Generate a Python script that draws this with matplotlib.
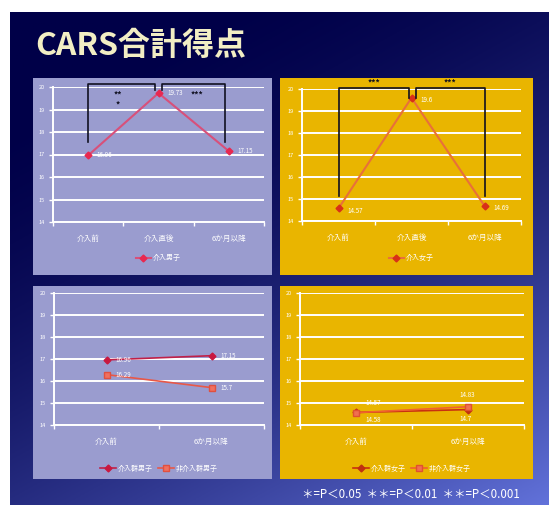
import numpy as np
import matplotlib.pyplot as plt
from matplotlib.patches import Rectangle

plt.rcParams['font.family'] = ['Noto Sans CJK JP', 'DejaVu Sans']

# данные
cats3 = ['介入前', '介入直後', '6か月以降']
cats2 = ['介入前', '6か月以降']
boys3 = [16.96, 19.73, 17.15]
girls3 = [14.57, 19.6, 14.69]
boys_int = [16.96, 17.15]
boys_non = [16.29, 15.7]
girls_int = [14.57, 14.7]
girls_non = [14.56, 14.83]
boys3_lbl = ['16.96', '19.73', '17.15']
girls3_lbl = ['14.57', '19.6', '14.69']
boys_int_lbl = ['16.96', '17.15']
boys_non_lbl = ['16.29', '15.7']
girls_int_lbl = ['14.57', '14.7']
girls_non_lbl = ['14.58', '14.83']
yticks = [14, 15, 16, 17, 18, 19, 20]

W, H = 549, 505
fig = plt.figure(figsize=(W / 100, H / 100), dpi=100)
fig.patch.set_facecolor('white')


def fr(x0, y0, x1, y1):
    # пиксели -> доли фигуры
    return [x0 / W, 1 - y1 / H, (x1 - x0) / W, (y1 - y0) / H]


# фон слайда с градиентом
bg = fig.add_axes(fr(10, 12, 549, 505))
bg.axis('off')
ny, nx = 200, 220
xx, yy = np.meshgrid(np.linspace(0, 1, nx), np.linspace(0, 1, ny))
t = np.clip((0.6 * xx + 1.0 * yy - 0.2) / 1.4, 0, 1) ** 1.7
navy = np.array([0x00, 0x00, 0x48]) / 255
blue = np.array([0x62, 0x72, 0xda]) / 255
img = navy + (blue - navy) * t[..., None]
bg.imshow(img, aspect='auto', extent=[0, 1, 0, 1], origin='upper')
bg.set_xlim(0, 1)
bg.set_ylim(0, 1)

fig.text(35 / W, 1 - 46 / H, 'CARS合計得点', color='#f2eec4', fontsize=23,
         va='center', ha='left', fontweight='bold')

lav = '#9a9ccf'
gold = '#e9b500'
panels = [(33, 78, 272, 275, lav), (280, 78, 533, 275, gold),
          (33, 286, 272, 479, lav), (280, 286, 533, 479, gold)]
for x0, y0, x1, y1, c in panels:
    fig.patches.append(Rectangle((x0 / W, 1 - y1 / H), (x1 - x0) / W, (y1 - y0) / H,
                                 transform=fig.transFigure, facecolor=c, edgecolor='none', zorder=1))


def setup(ax, cats):
    n = len(cats)
    ax.set_facecolor('none')
    ax.set_xlim(-0.5, n - 0.5)
    ax.set_ylim(14, 20)
    ax.set_yticks(yticks)
    ax.set_yticklabels([str(v) for v in yticks], fontsize=4, color='white')
    ax.set_xticks(range(n))
    ax.set_xticklabels(cats, fontsize=5.5, color='white')
    ax.set_xticks(np.arange(-0.5, n, 1.0), minor=True)
    ax.tick_params(axis='x', which='major', length=0, pad=9)
    ax.tick_params(axis='x', which='minor', length=3, color='white', width=1)
    ax.tick_params(axis='y', length=3, color='white', width=1, pad=3)
    ax.grid(axis='y', color='white', linewidth=1.4)
    ax.set_axisbelow(True)
    for s in ['top', 'right']:
        ax.spines[s].set_visible(False)
    for s in ['left', 'bottom']:
        ax.spines[s].set_color('white')
        ax.spines[s].set_linewidth(1.4)


def labels(ax, xs, ys, texts, dy=0.0, dx=0.12):
    for x, y, s in zip(xs, ys, texts):
        ax.text(x + dx, y + dy, s, fontsize=4.5, color='white', va='center', ha='left')


def bracket(ax, x0, x1, y_low0, y_low1, top, color='#101020'):
    ax.plot([x0, x0, x1, x1], [y_low0, top, top, y_low1], color=color,
            linewidth=1.2, clip_on=False, zorder=4)


# Панель 1: мальчики
ax1 = fig.add_axes(fr(53, 87, 264, 222), zorder=3)
setup(ax1, cats3)
ax1.plot(range(3), boys3, color='#d8507a', linewidth=1.5, marker='D', markersize=3.5,
         markerfacecolor='#e82850', markeredgecolor='#e82850', label='介入男子', zorder=3)
labels(ax1, range(3), boys3, boys3_lbl)
bracket(ax1, 0, 0.95, 17.55, 19.85, 20.12)
bracket(ax1, 1.05, 1.95, 19.85, 17.55, 20.12)
ax1.text(0.42, 19.66, '**', fontsize=6, color='#101020', ha='center', va='center', fontweight='bold')
ax1.text(0.42, 19.18, '*', fontsize=6, color='#101020', ha='center', va='center', fontweight='bold')
ax1.text(1.55, 19.66, '***', fontsize=6, color='#101020', ha='center', va='center', fontweight='bold')
ax1.legend(loc='center', bbox_to_anchor=(0.5, -0.27), frameon=False, fontsize=5,
           labelcolor='white', handlelength=2.2, handletextpad=0.3)

# Панель 2: девочки
ax2 = fig.add_axes(fr(302, 89, 521, 221), zorder=3)
setup(ax2, cats3)
ax2.plot(range(3), girls3, color='#e8703a', linewidth=1.5, marker='D', markersize=3.5,
         markerfacecolor='#d83018', markeredgecolor='#d83018', label='介入女子', zorder=3)
labels(ax2, range(3), girls3, girls3_lbl, dy=-0.1)
bracket(ax2, 0, 0.97, 15.15, 19.6, 20.05)
bracket(ax2, 1.06, 2.0, 19.6, 15.15, 20.05)
ax2.text(0.48, 20.25, '***', fontsize=6, color='#101020', ha='center', va='center', fontweight='bold')
ax2.text(1.52, 20.25, '***', fontsize=6, color='#101020', ha='center', va='center', fontweight='bold')
ax2.legend(loc='center', bbox_to_anchor=(0.5, -0.28), frameon=False, fontsize=5,
           labelcolor='white', handlelength=2.2, handletextpad=0.3)

# Панель 3: мальчики, два ряда
ax3 = fig.add_axes(fr(54, 293, 264, 425), zorder=3)
setup(ax3, cats2)
ax3.plot(range(2), boys_int, color='#c02048', linewidth=1.2, marker='D', markersize=3.5,
         markerfacecolor='#c81840', markeredgecolor='#c81840', label='介入群男子', zorder=3)
ax3.plot(range(2), boys_non, color='#e85848', linewidth=1.2, marker='s', markersize=4.5,
         markerfacecolor='#f07060', markeredgecolor='#e05040', label='非介入群男子', zorder=3)
labels(ax3, range(2), boys_int, boys_int_lbl, dx=0.08)
labels(ax3, range(2), boys_non, boys_non_lbl, dx=0.08)
ax3.legend(loc='center', bbox_to_anchor=(0.5, -0.33), frameon=False, fontsize=5, ncol=2,
           labelcolor='white', handlelength=2.2, handletextpad=0.3, columnspacing=0.8)

# Панель 4: девочки, два ряда
ax4 = fig.add_axes(fr(300, 293, 524, 425), zorder=3)
setup(ax4, cats2)
ax4.plot(range(2), girls_int, color='#c83010', linewidth=1.2, marker='D', markersize=3.5,
         markerfacecolor='#c03010', markeredgecolor='#c03010', label='介入群女子', zorder=3)
ax4.plot(range(2), girls_non, color='#f06030', linewidth=1.2, marker='s', markersize=4.5,
         markerfacecolor='#f07050', markeredgecolor='#e05030', label='非介入群女子', zorder=3)
ax4.text(0.08, girls_int[0] + 0.42, girls_int_lbl[0], fontsize=4.5, color='white', va='center')
ax4.text(0.08, girls_non[0] - 0.35, girls_non_lbl[0], fontsize=4.5, color='white', va='center')
ax4.text(0.92, girls_non[1] + 0.55, girls_non_lbl[1], fontsize=4.5, color='white', va='center')
ax4.text(0.92, girls_int[1] - 0.42, girls_int_lbl[1], fontsize=4.5, color='white', va='center')
ax4.legend(loc='center', bbox_to_anchor=(0.5, -0.33), frameon=False, fontsize=5, ncol=2,
           labelcolor='white', handlelength=2.2, handletextpad=0.3, columnspacing=0.8)

fig.text(302 / W, 1 - 494 / H, '＊=P＜0.05  ＊＊=P＜0.01  ＊＊=P＜0.001', color='white',
         fontsize=8.3, va='center', ha='left')

fig.savefig('out.png', dpi=100)
